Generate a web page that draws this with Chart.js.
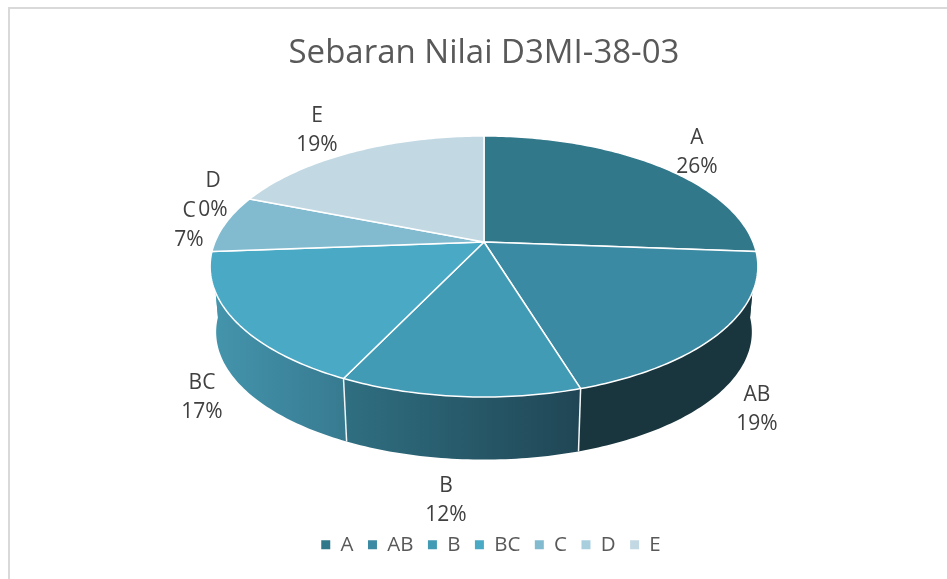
<!DOCTYPE html>
<html>
<head>
<meta charset="utf-8">
<title>Sebaran Nilai D3MI-38-03</title>
<script src="https://cdn.jsdelivr.net/npm/chart.js@4"></script>
<style>
  html, body { margin: 0; background: #fff; overflow: hidden; }
  #frame { position: absolute; left: 8px; top: 7px; width: 947px; height: 579px; border-left: 2px solid #d9d9d9; border-top: 2px solid #d9d9d9; }
  #chart { position: absolute; left: 0; top: 0; }
</style>
</head>
<body>
<div id="frame"></div>
<canvas id="chart" width="947" height="579"></canvas>
<script>
const grades = ["A", "AB", "B", "BC", "C", "D", "E"];
const studentCounts = [11, 8, 5, 7, 3, 0, 8];

const sliceColors = ["#31788b", "#3b8aa3", "#429bb5", "#4aa9c5", "#82bbd0", "#a9cfdf", "#c2d9e3"];
// left / right colour of each slice's outer wall
const wallShades = [
  ["#19363f", "#19363f"],
  ["#19363f", "#19363f"],
  ["#2f6f81", "#204655"],
  ["#4495ad", "#377a90"],
  ["#4495ad", "#4495ad"],
  ["#4495ad", "#4495ad"],
  ["#4495ad", "#4495ad"],
];
// label centre on screen, first text line
const labelSpots = [[697, 138], [757, 395], [446, 486], [202, 383], [189, 211], [213, 181], [317, 116]];

// perspective of the tilted disc
const CX = 484, TOP_Y = 242, BOTTOM_Y = 308, RX = 269, RY = 125.9, TILT = 0.1877, BOTTOM_SCALE = 0.978;

function project(angle, centreY, scale) {
  const w = 1 - TILT * Math.sin(angle);
  return [CX + scale * RX * Math.cos(angle) / w, centreY + scale * RY * Math.sin(angle) / w];
}

function arcPoints(from, to, centreY, scale) {
  const steps = Math.max(2, Math.ceil(Math.abs(to - from) * 60));
  const points = [];
  for (let i = 0; i <= steps; i++) {
    points.push(project(from + (to - from) * i / steps, centreY, scale));
  }
  return points;
}

function addPolygon(ctx, points) {
  points.forEach((p, i) => (i ? ctx.lineTo(p[0], p[1]) : ctx.moveTo(p[0], p[1])));
  ctx.closePath();
}

const perspectivePie = {
  id: "perspectivePie",
  afterLayout(chart) {
    // legend sits a little right of the title in the original
    chart.legend.left += 7;
    chart.legend.right += 7;
  },
  beforeDatasetsDraw(chart) {
    const ctx = chart.ctx;
    const arcs = chart.getDatasetMeta(0).data;
    ctx.save();
    ctx.lineJoin = "round";

    // outer wall, front half only. One quad per step so the silhouette
    // near the left and right ends stays filled
    arcs.forEach((arc, i) => {
      const from = Math.max(arc.startAngle, 0);
      const to = Math.min(arc.endAngle, Math.PI);
      if (to <= from) return;
      const top = arcPoints(from, to, TOP_Y, 1);
      const bottom = arcPoints(from, to, BOTTOM_Y, BOTTOM_SCALE);
      const xs = top.concat(bottom).map((p) => p[0]);
      const gradient = ctx.createLinearGradient(Math.min(...xs), 0, Math.max(...xs), 0);
      gradient.addColorStop(0, wallShades[i][0]);
      gradient.addColorStop(1, wallShades[i][1]);
      ctx.beginPath();
      for (let s = 0; s < top.length - 1; s++) {
        addPolygon(ctx, [top[s], top[s + 1], bottom[s + 1], bottom[s]]);
      }
      ctx.fillStyle = gradient;
      ctx.fill();
    });

    // white seams between wall pieces
    arcs.forEach((arc) => {
      const a = arc.endAngle;
      if (a <= 0.2 || a >= Math.PI - 0.2) return;
      const p = project(a, TOP_Y, 1);
      const q = project(a, BOTTOM_Y, BOTTOM_SCALE);
      ctx.beginPath();
      ctx.moveTo(p[0], p[1]);
      ctx.lineTo(q[0], q[1]);
      ctx.strokeStyle = "#f2f6f7";
      ctx.lineWidth = 1.5;
      ctx.stroke();
    });

    // top face
    arcs.forEach((arc, i) => {
      if (arc.endAngle - arc.startAngle <= 0) return;
      const points = [[CX, TOP_Y]].concat(arcPoints(arc.startAngle, arc.endAngle, TOP_Y, 1));
      ctx.beginPath();
      addPolygon(ctx, points);
      ctx.fillStyle = sliceColors[i];
      ctx.fill();
      ctx.strokeStyle = "#ffffff";
      ctx.lineWidth = 1.5;
      ctx.stroke();
    });

    ctx.restore();

    // data labels
    const total = studentCounts.reduce((a, b) => a + b, 0);
    ctx.save();
    ctx.font = '21px "Open Sans"';
    ctx.fillStyle = "#404040";
    ctx.textAlign = "center";
    ctx.textBaseline = "middle";
    grades.forEach((grade, i) => {
      const spot = labelSpots[i];
      ctx.fillText(grade, spot[0], spot[1]);
      ctx.fillText(Math.round(studentCounts[i] / total * 100) + "%", spot[0], spot[1] + 29.5);
    });
    ctx.restore();
    return false;
  },
};

new Chart(document.getElementById("chart").getContext("2d"), {
  type: "pie",
  data: {
    labels: grades,
    datasets: [{ data: studentCounts, backgroundColor: sliceColors, borderWidth: 0 }],
  },
  options: {
    responsive: false,
    animation: false,
    layout: { padding: { left: 21, top: 34, bottom: 14 } },
    plugins: {
      title: {
        display: true,
        text: "Sebaran Nilai D3MI-38-03",
        color: "#595959",
        font: { family: '"Open Sans"', size: 33, weight: "normal" },
        padding: { top: 0, bottom: 10 },
      },
      legend: {
        position: "bottom",
        labels: {
          color: "#595959",
          font: { family: '"Open Sans"', size: 20.5 },
          boxWidth: 9,
          boxHeight: 9,
          padding: 14.5,
        },
      },
      tooltip: { enabled: false },
    },
  },
  plugins: [perspectivePie],
});
</script>
</body>
</html>
